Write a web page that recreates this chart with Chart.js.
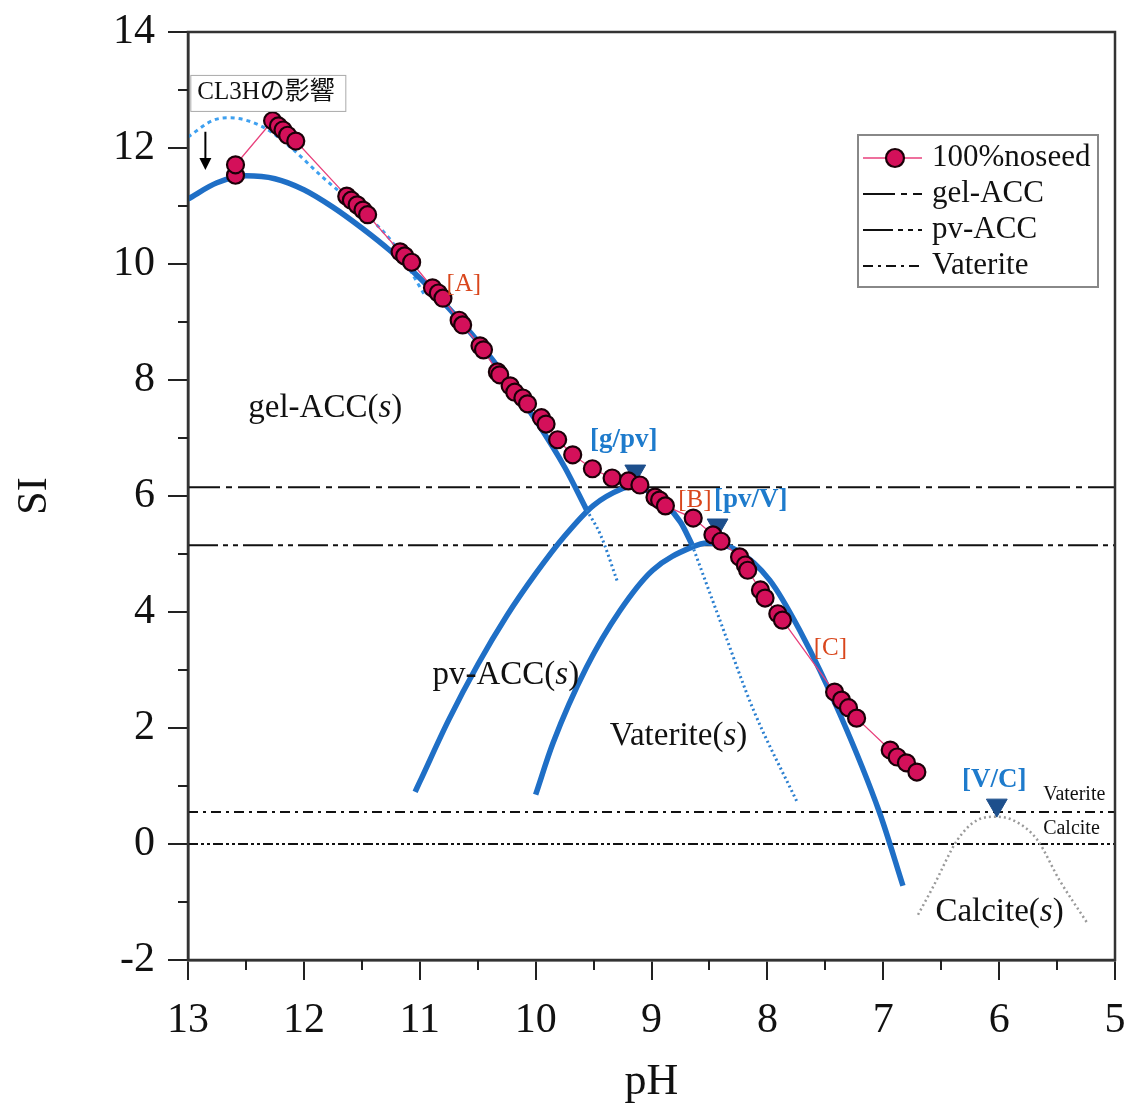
<!DOCTYPE html>
<html>
<head>
<meta charset="utf-8">
<title>SI - pH</title>
<script src="https://cdn.jsdelivr.net/npm/chart.js@4.4.1/dist/chart.umd.min.js"></script>
<style>
  html, body { margin: 0; padding: 0; background: #fff; }
  #wrap { width: 1131px; height: 1104px; }
</style>
</head>
<body>
<div id="wrap"><canvas id="si-chart" width="1131" height="1104"></canvas></div>
<script>
// measured run, 100% no seed
const measPH = [12.59, 12.59, 12.27, 12.22, 12.18, 12.14, 12.07, 11.63, 11.59, 11.54, 11.49, 11.45, 11.17, 11.13, 11.07,
  10.89, 10.84, 10.80, 10.66, 10.63, 10.48, 10.45, 10.33, 10.31, 10.22, 10.18, 10.11, 10.07, 9.95, 9.91, 9.81, 9.68,
  9.51, 9.34, 9.20, 9.10, 8.97, 8.93, 8.88, 8.64, 8.47, 8.40, 8.24, 8.19, 8.17, 8.06, 8.02, 7.91, 7.87,
  7.42, 7.36, 7.30, 7.23, 6.94, 6.88, 6.80, 6.71];
const measSI = [11.53, 11.71, 12.47, 12.38, 12.31, 12.22, 12.12, 11.17, 11.10, 11.02, 10.93, 10.85, 10.21, 10.14, 10.03,
  9.59, 9.50, 9.41, 9.03, 8.95, 8.59, 8.52, 8.14, 8.09, 7.90, 7.79, 7.69, 7.59, 7.35, 7.24, 6.97, 6.71,
  6.47, 6.31, 6.26, 6.19, 5.98, 5.93, 5.83, 5.62, 5.33, 5.22, 4.95, 4.81, 4.72, 4.38, 4.24, 3.97, 3.86,
  2.62, 2.48, 2.35, 2.17, 1.62, 1.50, 1.40, 1.24];

// solubility curves of each solid
const gelPH = [13.00, 12.75, 12.50, 12.25, 12.00, 11.75, 11.50, 11.25, 11.00, 10.75, 10.50, 10.25, 10.00, 9.75, 9.56];
const gelSI = [11.12, 11.40, 11.52, 11.47, 11.28, 10.98, 10.62, 10.22, 9.76, 9.24, 8.67, 8.03, 7.31, 6.50, 5.76];
const gelTailPH = [9.56, 9.44, 9.29];
const gelTailSI = [5.76, 5.33, 4.50];

const pvPH = [11.04, 11.00, 10.75, 10.50, 10.25, 10.00, 9.75, 9.50, 9.25, 9.19, 9.00, 8.75, 8.65];
const pvSI = [0.90, 1.07, 2.14, 3.09, 3.93, 4.66, 5.31, 5.84, 6.13, 6.16, 6.05, 5.55, 5.16];
const pvTailPH = [8.65, 8.41, 8.12, 7.74];
const pvTailSI = [5.16, 3.86, 2.31, 0.71];

const vatPH = [10.00, 9.85, 9.56, 9.27, 8.99, 8.65, 8.52, 8.26, 7.98, 7.72, 7.37, 7.03, 6.83];
const vatSI = [0.85, 1.74, 3.05, 4.03, 4.72, 5.12, 5.19, 5.06, 4.55, 3.68, 2.22, 0.53, -0.72];

const calPH = [6.70, 6.57, 6.36, 6.19, 6.02, 5.85, 5.67, 5.48, 5.24];
const calSI = [-1.22, -0.74, 0.07, 0.41, 0.47, 0.38, 0.07, -0.62, -1.36];

// gel-ACC shifted by CL3H
const cl3hPH = [13.00, 12.78, 12.64, 12.35, 12.12, 11.84, 11.54, 11.23, 10.96];
const cl3hSI = [12.19, 12.48, 12.52, 12.36, 12.02, 11.50, 10.98, 10.36, 9.47];

// saturation levels
const levelNames = ["gel-ACC", "pv-ACC", "Vaterite", "Calcite"];
const levelSI = [6.15, 5.15, 0.55, 0];

// transition points
const transNames = ["[g/pv]", "[pv/V]", "[V/C]"];
const transPH = [9.14, 8.43, 6.02];
const transSI = [6.43, 5.50, 0.67];

const SERIF = "'Liberation Serif', 'Times New Roman', 'Noto Sans CJK JP', serif";
const BLUE = "#1f6fc6";
const levelDash = [[32, 6, 6, 6], [30, 5, 5, 5, 5, 5], [10, 5, 3, 5], [10, 3, 3, 3, 3, 3]];

const pts = (xs, ys) => xs.map((x, i) => ({ x, y: ys[i] }));

function curve(label, xs, ys, color, width, dash) {
  return {
    label, data: pts(xs, ys), borderColor: color, borderWidth: width,
    borderDash: dash || [], pointRadius: 0, cubicInterpolationMode: "monotone",
    fill: false, order: 3
  };
}

const datasets = [
  {
    label: "100%noseed", data: pts(measPH, measSI),
    borderColor: "#e8407c", borderWidth: 1.3, tension: 0,
    pointRadius: 8.5, pointBackgroundColor: "#d4105a", pointBorderColor: "#1a0008", pointBorderWidth: 2.2,
    order: 0
  },
  {
    label: "transitions", data: pts(transPH, transSI), showLine: false,
    pointStyle: "triangle", rotation: 180, pointRadius: 12,
    pointBackgroundColor: "#1d4f8c", pointBorderColor: "#1d4f8c", order: 1
  },
  curve("gel-ACC(s)", gelPH, gelSI, BLUE, 5.5),
  curve("gel-ACC tail", gelTailPH, gelTailSI, "#2a7fd0", 3, [2, 3]),
  curve("pv-ACC(s)", pvPH, pvSI, BLUE, 5.5),
  curve("pv-ACC tail", pvTailPH, pvTailSI, "#2a7fd0", 3, [2, 3]),
  curve("Vaterite(s)", vatPH, vatSI, BLUE, 5.5),
  curve("Calcite(s)", calPH, calSI, "#9a9a9a", 2.5, [2, 3]),
  curve("CL3H", cl3hPH, cl3hSI, "#3ea0f0", 3, [4, 4])
];

levelNames.forEach((name, i) => {
  datasets.push({
    label: name, data: pts([13, 5], [levelSI[i], levelSI[i]]),
    borderColor: "#111", borderWidth: 2, borderDash: levelDash[i],
    pointRadius: 0, tension: 0, order: 4
  });
});

// frame on top/right and the short minor ticks
const framePlugin = {
  id: "frame",
  afterDatasetsDraw(chart) {
    const { ctx, chartArea: a, scales: { x, y } } = chart;
    ctx.save();
    ctx.strokeStyle = "#333";
    ctx.lineWidth = 2.5;
    ctx.strokeRect(a.left, a.top, a.right - a.left, a.bottom - a.top);
    ctx.strokeStyle = "#222";
    ctx.lineWidth = 2;
    ctx.beginPath();
    for (let v = -1; v <= 13; v += 2) {
      const py = Math.round(y.getPixelForValue(v));
      ctx.moveTo(a.left - 10, py);
      ctx.lineTo(a.left, py);
    }
    for (let v = 5.5; v < 13; v += 1) {
      const px = Math.round(x.getPixelForValue(v));
      ctx.moveTo(px, a.bottom);
      ctx.lineTo(px, a.bottom + 10);
    }
    ctx.stroke();
    ctx.restore();
  }
};

// text runs: [text, italic]
function drawRuns(ctx, runs, px, py, size, color, weight) {
  let cx = px;
  ctx.fillStyle = color;
  ctx.textBaseline = "middle";
  ctx.textAlign = "left";
  runs.forEach(([t, it]) => {
    ctx.font = (it ? "italic " : "") + (weight || "") + " " + size + "px " + SERIF;
    ctx.fillText(t, cx, py);
    cx += ctx.measureText(t).width;
  });
}

const species = [
  ["gel-ACC", 12.48, 7.52],
  ["pv-ACC", 10.89, 2.91],
  ["Vaterite", 9.36, 1.85],
  ["Calcite", 6.55, -1.17]
];
const markers = [
  ["[A]", 10.77, 9.64], ["[B]", 8.77, 5.93], ["[C]", 7.60, 3.38]
];
const transLabelPos = [[9.53, 6.97], [8.46, 5.93], [6.32, 1.10]];

const notesPlugin = {
  id: "notes",
  afterDraw(chart) {
    const { ctx, chartArea: a, scales: { x, y } } = chart;
    ctx.save();

    species.forEach(([name, ph, si]) => {
      drawRuns(ctx, [[name + "(", false], ["s", true], [")", false]], x.getPixelForValue(ph), y.getPixelForValue(si), 33, "#111");
    });
    markers.forEach(([t, ph, si]) => {
      drawRuns(ctx, [[t, false]], x.getPixelForValue(ph), y.getPixelForValue(si), 25, "#d9461c");
    });
    transNames.forEach((t, i) => {
      const [ph, si] = transLabelPos[i];
      drawRuns(ctx, [[t, false]], x.getPixelForValue(ph), y.getPixelForValue(si), 27, "#1e7bcc", "bold");
    });
    drawRuns(ctx, [["Vaterite", false]], x.getPixelForValue(5.62), y.getPixelForValue(0.85), 20, "#111");
    drawRuns(ctx, [["Calcite", false]], x.getPixelForValue(5.62), y.getPixelForValue(0.26), 20, "#111");

    // CL3H note with arrow
    const bx = x.getPixelForValue(12.98), by = y.getPixelForValue(13.26);
    ctx.fillStyle = "#fff";
    ctx.fillRect(bx, by, 155, 36);
    ctx.strokeStyle = "#aaa";
    ctx.lineWidth = 1;
    ctx.strokeRect(bx + 0.5, by + 0.5, 155, 36);
    drawRuns(ctx, [["CL3Hの影響", false]], bx + 7, by + 18, 25, "#111");
    const ax = x.getPixelForValue(12.85), ay0 = y.getPixelForValue(12.28), ay1 = y.getPixelForValue(11.62);
    ctx.strokeStyle = "#000";
    ctx.lineWidth = 2;
    ctx.beginPath();
    ctx.moveTo(ax, ay0);
    ctx.lineTo(ax, ay1 - 8);
    ctx.stroke();
    ctx.fillStyle = "#000";
    ctx.beginPath();
    ctx.moveTo(ax - 6, ay1 - 12);
    ctx.lineTo(ax + 6, ay1 - 12);
    ctx.lineTo(ax, ay1);
    ctx.closePath();
    ctx.fill();

    // legend box
    const lx = a.right - 257, ly = a.top + 103, lw = 240, lh = 152;
    ctx.fillStyle = "#fff";
    ctx.fillRect(lx, ly, lw, lh);
    ctx.strokeStyle = "#888";
    ctx.lineWidth = 2;
    ctx.strokeRect(lx, ly, lw, lh);
    const rows = ["100%noseed", "gel-ACC", "pv-ACC", "Vaterite"];
    rows.forEach((name, i) => {
      const ds = chart.data.datasets.find(d => d.label === name);
      const ry = ly + 23 + i * 36;
      ctx.save();
      ctx.strokeStyle = ds.borderColor;
      ctx.lineWidth = ds.borderWidth;
      ctx.setLineDash(ds.borderDash || []);
      ctx.beginPath();
      ctx.moveTo(lx + 5, ry);
      ctx.lineTo(lx + 64, ry);
      ctx.stroke();
      ctx.restore();
      if (ds.pointRadius > 0) {
        ctx.fillStyle = ds.pointBackgroundColor;
        ctx.strokeStyle = ds.pointBorderColor;
        ctx.lineWidth = ds.pointBorderWidth;
        ctx.beginPath();
        ctx.arc(lx + 37, ry, 9, 0, Math.PI * 2);
        ctx.fill();
        ctx.stroke();
      }
      drawRuns(ctx, [[name, false]], lx + 74, ry, 31, "#111");
    });
    ctx.restore();
  }
};

new Chart(document.getElementById("si-chart"), {
  type: "line",
  data: { datasets },
  options: {
    responsive: false,
    animation: false,
    layout: { padding: { top: 32, right: 16, left: 0, bottom: 0 } },
    plugins: { legend: { display: false }, tooltip: { enabled: false } },
    scales: {
      x: {
        type: "linear", reverse: true, min: 5, max: 13,
        ticks: { stepSize: 1, color: "#111", padding: 16, font: { family: SERIF, size: 42 } },
        grid: { drawOnChartArea: false, drawTicks: true, tickLength: 20, color: "#222", lineWidth: 2 },
        border: { display: true, color: "#333", width: 2.5 },
        title: { display: true, text: "pH", color: "#111", padding: { top: 0, bottom: 0 }, font: { family: SERIF, size: 44, lineHeight: 1.0 } },
        afterFit(s) { s.height = 144; s.paddingLeft = 0; s.paddingRight = 0; }
      },
      y: {
        type: "linear", min: -2, max: 14,
        ticks: { stepSize: 2, color: "#111", padding: 13, font: { family: SERIF, size: 42 } },
        grid: { drawOnChartArea: false, drawTicks: true, tickLength: 20, color: "#222", lineWidth: 2 },
        border: { display: true, color: "#333", width: 2.5 },
        title: { display: true, text: "SI", color: "#111", padding: { top: 10, bottom: 0 }, font: { family: SERIF, size: 42 } },
        afterFit(s) { s.width = 188; s.paddingTop = 0; s.paddingBottom = 0; }
      }
    }
  },
  plugins: [framePlugin, notesPlugin]
});
</script>
</body>
</html>
